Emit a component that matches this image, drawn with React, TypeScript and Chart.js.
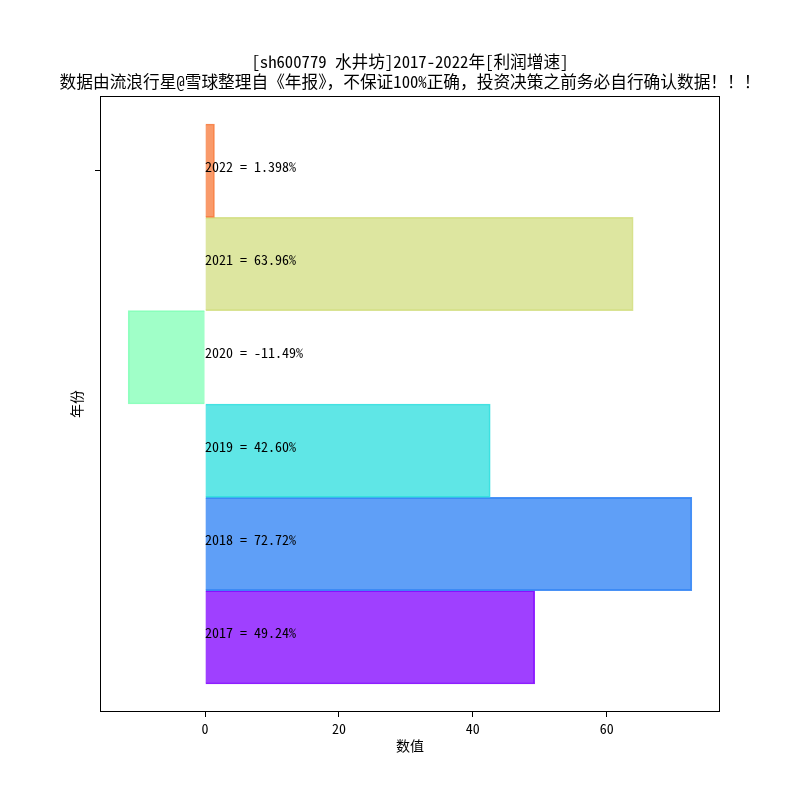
import React, { useEffect, useRef } from 'react';
import Chart from 'chart.js/auto';

const years = ['2017', '2018', '2019', '2020', '2021', '2022'];
const growth = [49.24, 72.72, 42.6, -11.49, 63.96, 1.398];
const xTickValues = [0, 20, 40, 60];
const yTickValues = [5];

const titleLine1 = '[sh600779 水井坊]2017-2022年[利润增速]';
const titleLine2 = '数据由流浪行星@雪球整理自《年报》，不保证100%正确，投资决策之前务必自行确认数据！！！';
const xTitle = '数值';
const yTitle = '年份';

const fillColors = [
  'rgba(127, 0, 255, 0.75)',
  'rgba(42, 127, 244, 0.75)',
  'rgba(42, 222, 222, 0.75)',
  'rgba(128, 255, 182, 0.75)',
  'rgba(210, 222, 128, 0.75)',
  'rgba(247, 120, 56, 0.75)',
];
const edgeColors = [
  'rgba(127, 0, 255, 0.85)',
  'rgba(42, 127, 244, 0.85)',
  'rgba(42, 222, 222, 0.85)',
  'rgba(128, 255, 182, 0.85)',
  'rgba(210, 222, 128, 0.85)',
  'rgba(247, 120, 56, 0.85)',
];

const FONT = '"Noto Sans Mono CJK SC", "Noto Sans CJK SC", sans-serif';

// matplotlib style 5% margins
const xLo = Math.min(0, ...growth);
const xHi = Math.max(0, ...growth);
const xPad = (xHi - xLo) * 0.05;
const yLo = -0.5;
const yHi = years.length - 0.5;
const yPad = (yHi - yLo) * 0.05;

const decorPlugin = {
  id: 'decor',
  afterDatasetsDraw(chart: any) {
    const { ctx } = chart;
    const x0 = chart.scales.x.getPixelForValue(0);
    const meta = chart.getDatasetMeta(0);
    ctx.save();
    ctx.fillStyle = '#000';
    ctx.font = `14px ${FONT}`;
    ctx.textAlign = 'left';
    ctx.textBaseline = 'alphabetic';
    meta.data.forEach((bar: any, i: number) => {
      ctx.fillText(`${years[i]} = ${growth[i].toPrecision(4)}%`, x0, bar.y + 1);
    });
    ctx.restore();
  },
  afterDraw(chart: any) {
    const { ctx, chartArea: a } = chart;
    ctx.save();
    ctx.strokeStyle = '#000';
    ctx.lineWidth = 1;
    ctx.strokeRect(a.left + 0.5, a.top + 0.5, a.right - a.left - 1, a.bottom - a.top - 1);

    const cx = (a.left + a.right) / 2;
    ctx.fillStyle = '#000';
    ctx.textAlign = 'center';
    ctx.textBaseline = 'middle';
    ctx.font = `16.7px ${FONT}`;
    ctx.fillText(titleLine1, cx, 62);
    ctx.fillText(titleLine2, cx, 81.5);

    ctx.font = `14px ${FONT}`;
    ctx.fillText(xTitle, cx, 746);
    ctx.translate(77, (a.top + a.bottom) / 2);
    ctx.rotate(-Math.PI / 2);
    ctx.fillText(yTitle, 0, 0);
    ctx.restore();
  },
};

const App: React.FC = () => {
  const chartRef = useRef<HTMLCanvasElement | null>(null);

  useEffect(() => {
    if (!chartRef.current) return;
    const chart = new Chart(chartRef.current, {
      type: 'bar',
      data: {
        datasets: [{
          data: growth.map((v, i) => ({ x: v, y: i })),
          backgroundColor: fillColors,
          borderColor: edgeColors,
          borderWidth: 1,
          barPercentage: 1,
          categoryPercentage: 1,
        }],
      },
      options: {
        indexAxis: 'y',
        responsive: false,
        animation: false,
        devicePixelRatio: 1,
        layout: { padding: { top: 96, right: 80, left: 0, bottom: 0 } },
        plugins: {
          legend: { display: false },
          tooltip: { enabled: false },
          title: { display: false },
        },
        scales: {
          x: {
            type: 'linear',
            min: xLo - xPad,
            max: xHi + xPad,
            offset: false,
            afterBuildTicks: (s: any) => { s.ticks = xTickValues.map((v) => ({ value: v })); },
            afterFit: (s: any) => { s.height = 88; },
            grid: { offset: false, drawOnChartArea: false, drawTicks: true, tickLength: 5, color: '#000' },
            border: { display: false },
            ticks: {
              color: '#000',
              font: { family: FONT, size: 14 },
              padding: 3,
              maxRotation: 0,
              callback: (v: any) => String(v),
            },
          },
          y: {
            type: 'linear',
            min: yLo - yPad,
            max: yHi + yPad,
            offset: false,
            afterBuildTicks: (s: any) => { s.ticks = yTickValues.map((v) => ({ value: v })); },
            afterFit: (s: any) => { s.width = 100; },
            grid: { offset: false, drawOnChartArea: false, drawTicks: true, tickLength: 5, color: '#000' },
            border: { display: false },
            ticks: { callback: () => '' },
          },
        },
      },
      plugins: [decorPlugin],
    });
    return () => chart.destroy();
  }, []);

  return (
    <div style={{ position: 'fixed', left: 0, top: 0, width: 800, height: 800, background: '#fff' }}>
      <canvas ref={chartRef} width={800} height={800} />
    </div>
  );
};

export default App;
